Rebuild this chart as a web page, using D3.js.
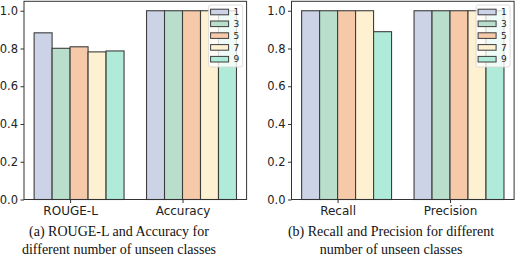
<!DOCTYPE html>
<html>
<head>
<meta charset="utf-8">
<script src="https://cdn.jsdelivr.net/npm/d3@7"></script>
<style>
  body { margin: 0; background: #fff; }
  svg { display: block; }
</style>
</head>
<body>
<div id="chart"></div>
<script>
// data
var classes = ['1', '3', '5', '7', '9'];
var leftMetrics = ['ROUGE-L', 'Accuracy'];
var rougeL = [0.883, 0.801, 0.809, 0.782, 0.787];
var accuracy = [1.0, 1.0, 1.0, 1.0, 1.0];
var rightMetrics = ['Recall', 'Precision'];
var recall = [1.0, 1.0, 1.0, 1.0, 0.889];
var precision = [1.0, 1.0, 1.0, 1.0, 1.0];
var yTicks = [0.0, 0.2, 0.4, 0.6, 0.8, 1.0];
var captions = [
  ['(a) ROUGE-L and Accuracy for', 'different number of unseen classes'],
  ['(b) Recall and Precision for different', 'number of unseen classes']
];

var colors = ['#ccd3e6', '#b9dfcc', '#f6caa9', '#fdf1d2', '#afebd8'];
var w = 515, h = 268;
var barW = 0.16;

var svg = d3.select('#chart').append('svg')
  .attr('width', w)
  .attr('height', h);

function drawPanel(left, metrics, series, caption, capX) {
  var x = d3.scaleLinear().domain([-0.41, 1.57]).range([left, left + 222.6]);
  var y = d3.scaleLinear().domain([0, 1.05]).range([199.5, 1.3]);

  var g = svg.append('g');

  // bars
  metrics.forEach(function(m, j) {
    series[j].forEach(function(v, i) {
      var x0 = x(j + (i - 2) * barW);
      g.append('rect')
        .attr('x', x0)
        .attr('y', y(v))
        .attr('width', x(barW) - x(0))
        .attr('height', y(0) - y(v))
        .attr('fill', colors[i])
        .attr('stroke', '#3d3d3d')
        .attr('stroke-width', 1.1);
    });
  });

  // y axis
  var yAxis = d3.axisLeft(y).tickValues(yTicks).tickFormat(d3.format('.1f')).tickSizeOuter(0).tickSize(3.5).tickPadding(2.5);
  var ya = g.append('g').attr('transform', 'translate(' + x.range()[0] + ',0)').call(yAxis);
  ya.select('.domain').remove();
  ya.selectAll('text').style('font-family', 'DejaVu Sans').style('font-size', '11.5px').attr('fill', '#222');
  ya.selectAll('line').attr('stroke', '#333');

  // x axis
  var xAxis = d3.axisBottom(x).tickValues([0, 1]).tickFormat(function(d) { return metrics[d]; }).tickSizeOuter(0).tickSize(3.5).tickPadding(3);
  var xa = g.append('g').attr('transform', 'translate(0,' + y(0) + ')').call(xAxis);
  xa.select('.domain').remove();
  xa.selectAll('text').style('font-family', 'DejaVu Sans').style('font-size', '12px').attr('fill', '#222');
  xa.selectAll('line').attr('stroke', '#333');

  // frame
  g.append('rect')
    .attr('x', x.range()[0])
    .attr('y', y.range()[1])
    .attr('width', x.range()[1] - x.range()[0])
    .attr('height', y.range()[0] - y.range()[1])
    .attr('fill', 'none')
    .attr('stroke', '#333')
    .attr('stroke-width', 1);

  // legend
  var lx = x.range()[1] - 38, ly = 5;
  var leg = g.append('g').attr('transform', 'translate(' + lx + ',' + ly + ')');
  leg.append('rect')
    .attr('width', 34).attr('height', 62)
    .attr('rx', 2)
    .attr('fill', '#fff').attr('fill-opacity', 0.8)
    .attr('stroke', '#d6d6d6').attr('stroke-width', 0.8);
  classes.forEach(function(c, i) {
    var cy = 7 + i * 11.8;
    leg.append('rect')
      .attr('x', 2).attr('y', cy - 2.8)
      .attr('width', 18).attr('height', 5.6)
      .attr('fill', colors[i])
      .attr('stroke', '#3d3d3d').attr('stroke-width', 1);
    leg.append('text')
      .attr('x', 25).attr('y', cy)
      .attr('dy', '0.35em')
      .style('font-family', 'DejaVu Sans').style('font-size', '9px')
      .attr('fill', '#222')
      .text(c);
  });

  // caption
  caption.forEach(function(line, k) {
    svg.append('text')
      .attr('x', capX)
      .attr('y', 236 + k * 17.5)
      .attr('text-anchor', 'middle')
      .style('font-family', 'Liberation Serif')
      .style('font-size', '14px')
      .attr('fill', '#111')
      .text(line);
  });
}

drawPanel(24, leftMetrics, [rougeL, accuracy], captions[0], 119);
drawPanel(291.5, rightMetrics, [recall, precision], captions[1], 391);
</script>
</body>
</html>
